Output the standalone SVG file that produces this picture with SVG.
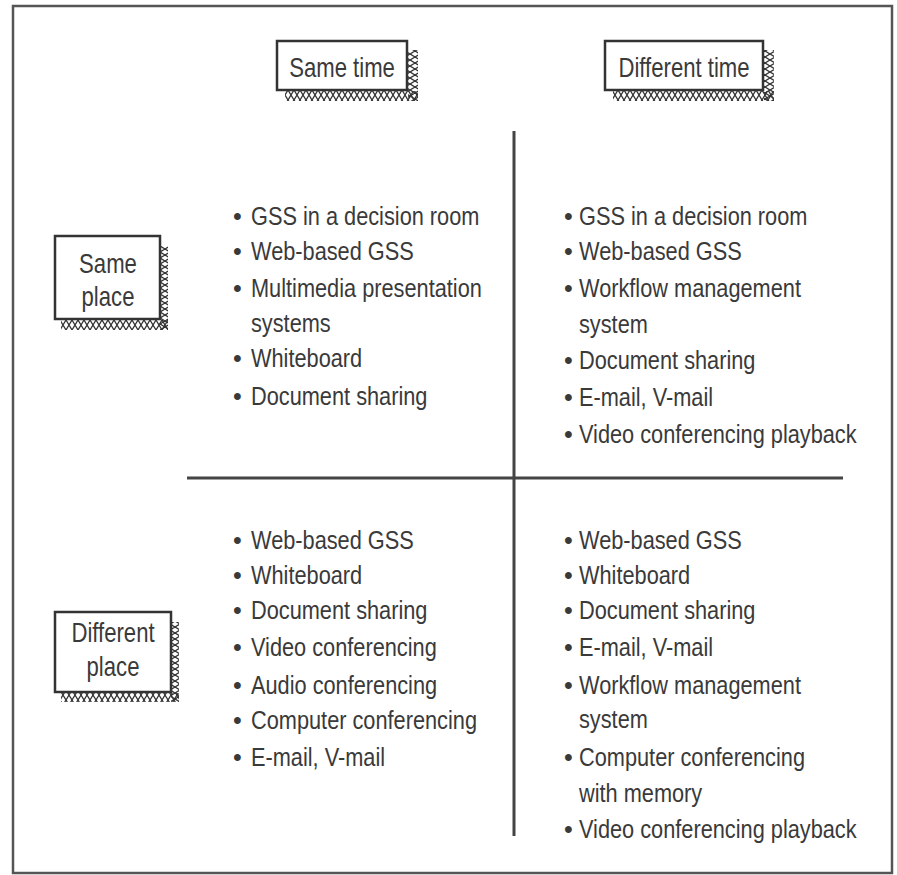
<svg xmlns="http://www.w3.org/2000/svg" width="897" height="875" viewBox="0 0 897 875">
<style>
.t{font-family:"Liberation Sans",Arial,sans-serif;font-size:25px;fill:#3a3a3a}
.lb{font-family:"Liberation Sans",Arial,sans-serif;font-size:27px;fill:#3a3a3a;text-anchor:middle}
.box{fill:#fff;stroke:#333;stroke-width:2.5}
.ln{stroke:#444;stroke-width:3;fill:none}
</style>
<defs>
<pattern id="hb" patternUnits="userSpaceOnUse" width="6" height="10">
<path d="M0,0 L6,10 M6,0 L0,10" stroke="#333" stroke-width="1.3" fill="none"/>
</pattern>
<pattern id="hr" patternUnits="userSpaceOnUse" width="10" height="6">
<path d="M0,0 L10,6 M0,6 L10,0" stroke="#333" stroke-width="1.3" fill="none"/>
</pattern>
</defs>
<rect x="13" y="6" width="879" height="867" fill="#fff" stroke="#555" stroke-width="2.5"/>
<g id="connectors">
<line class="ln" x1="514" y1="131" x2="514" y2="836"/>
<line class="ln" x1="187" y1="478" x2="843" y2="478"/>
</g>
<g id="same-time">
<rect x="285" y="91" width="133" height="10" fill="url(#hb)"/>
<rect x="408" y="50" width="10" height="51" fill="url(#hr)"/>
<rect class="box" x="277" y="41" width="130" height="49"/>
<text class="lb" transform="translate(342,77) scale(0.82,1)">Same time</text>
</g>
<g id="different-time">
<rect x="613" y="91" width="161" height="10" fill="url(#hb)"/>
<rect x="764" y="50" width="10" height="51" fill="url(#hr)"/>
<rect class="box" x="605" y="41" width="158" height="49"/>
<text class="lb" transform="translate(684,77) scale(0.82,1)">Different time</text>
</g>
<g id="same-place">
<rect x="61" y="320" width="107" height="10" fill="url(#hb)"/>
<rect x="160" y="246" width="8" height="84" fill="url(#hr)"/>
<rect class="box" x="55" y="236" width="105" height="83"/>
<text class="lb" transform="translate(108,273) scale(0.82,1)">Same</text>
<text class="lb" transform="translate(108,306) scale(0.82,1)">place</text>
</g>
<g id="different-place">
<rect x="61" y="693" width="118" height="9" fill="url(#hb)"/>
<rect x="171" y="622" width="8" height="80" fill="url(#hr)"/>
<rect class="box" x="55" y="612" width="116" height="80"/>
<text class="lb" transform="translate(113,642) scale(0.82,1)">Different</text>
<text class="lb" transform="translate(113,676) scale(0.82,1)">place</text>
</g>
<g id="same-time-same-place">
<g class="t">
<text transform="translate(233,225)">•</text>
<text transform="translate(233,260)">•</text>
<text transform="translate(233,297)">•</text>
<text transform="translate(233,367)">•</text>
<text transform="translate(233,405)">•</text>
<text transform="translate(251,225) scale(0.87,1)">GSS in a decision room</text>
<text transform="translate(251,260) scale(0.87,1)">Web-based GSS</text>
<text transform="translate(251,297) scale(0.87,1)">Multimedia presentation</text>
<text transform="translate(251,332) scale(0.87,1)">systems</text>
<text transform="translate(251,367) scale(0.87,1)">Whiteboard</text>
<text transform="translate(251,405) scale(0.87,1)">Document sharing</text>
</g>
</g>
<g id="different-time-same-place">
<g class="t">
<text transform="translate(564,225)">•</text>
<text transform="translate(564,260)">•</text>
<text transform="translate(564,297)">•</text>
<text transform="translate(564,369)">•</text>
<text transform="translate(564,406)">•</text>
<text transform="translate(564,443)">•</text>
<text transform="translate(579,225) scale(0.87,1)">GSS in a decision room</text>
<text transform="translate(579,260) scale(0.87,1)">Web-based GSS</text>
<text transform="translate(579,297) scale(0.87,1)">Workflow management</text>
<text transform="translate(579,333) scale(0.87,1)">system</text>
<text transform="translate(579,369) scale(0.87,1)">Document sharing</text>
<text transform="translate(579,406) scale(0.87,1)">E-mail, V-mail</text>
<text transform="translate(579,443) scale(0.87,1)">Video conferencing playback</text>
</g>
</g>
<g id="same-time-different-place">
<g class="t">
<text transform="translate(233,549)">•</text>
<text transform="translate(233,584)">•</text>
<text transform="translate(233,619)">•</text>
<text transform="translate(233,656)">•</text>
<text transform="translate(233,694)">•</text>
<text transform="translate(233,729)">•</text>
<text transform="translate(233,766)">•</text>
<text transform="translate(251,549) scale(0.87,1)">Web-based GSS</text>
<text transform="translate(251,584) scale(0.87,1)">Whiteboard</text>
<text transform="translate(251,619) scale(0.87,1)">Document sharing</text>
<text transform="translate(251,656) scale(0.87,1)">Video conferencing</text>
<text transform="translate(251,694) scale(0.87,1)">Audio conferencing</text>
<text transform="translate(251,729) scale(0.87,1)">Computer conferencing</text>
<text transform="translate(251,766) scale(0.87,1)">E-mail, V-mail</text>
</g>
</g>
<g id="different-time-different-place">
<g class="t">
<text transform="translate(564,549)">•</text>
<text transform="translate(564,584)">•</text>
<text transform="translate(564,619)">•</text>
<text transform="translate(564,656)">•</text>
<text transform="translate(564,694)">•</text>
<text transform="translate(564,766)">•</text>
<text transform="translate(564,838)">•</text>
<text transform="translate(579,549) scale(0.87,1)">Web-based GSS</text>
<text transform="translate(579,584) scale(0.87,1)">Whiteboard</text>
<text transform="translate(579,619) scale(0.87,1)">Document sharing</text>
<text transform="translate(579,656) scale(0.87,1)">E-mail, V-mail</text>
<text transform="translate(579,694) scale(0.87,1)">Workflow management</text>
<text transform="translate(579,728) scale(0.87,1)">system</text>
<text transform="translate(579,766) scale(0.87,1)">Computer conferencing</text>
<text transform="translate(579,802) scale(0.87,1)">with memory</text>
<text transform="translate(579,838) scale(0.87,1)">Video conferencing playback</text>
</g>
</g>
</svg>
